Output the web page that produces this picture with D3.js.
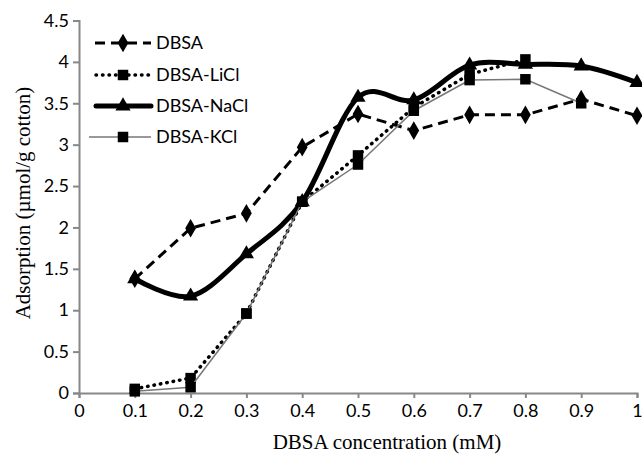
<!DOCTYPE html>
<html>
<head>
<meta charset="utf-8">
<script src="https://cdn.jsdelivr.net/npm/d3@7"></script>
<style>
  body { margin: 0; background: #fff; }
  svg text { fill: #000; }
</style>
</head>
<body>
<div id="chart"></div>
<script>
const width = 642;
const height = 455;

// data
const concentrations = [0.1, 0.2, 0.3, 0.4, 0.5, 0.6, 0.7, 0.8, 0.9, 1.0];
const dbsa = [1.38, 1.99, 2.17, 2.97, 3.37, 3.17, 3.36, 3.36, 3.55, 3.35];
const dbsaLiCl = [0.05, 0.18, 0.96, 2.31, 2.87, 3.45, 3.85, 4.03];
const dbsaNaCl = [1.38, 1.17, 1.68, 2.31, 3.57, 3.54, 3.96, 3.97, 3.95, 3.75];
const dbsaKCl = [0.02, 0.07, 0.96, 2.31, 2.76, 3.41, 3.78, 3.79, 3.50];
const xTicks = [0, 0.1, 0.2, 0.3, 0.4, 0.5, 0.6, 0.7, 0.8, 0.9, 1];
const yTicks = [0, 0.5, 1, 1.5, 2, 2.5, 3, 3.5, 4, 4.5];

const series = [
  { name: "DBSA", values: dbsa, marker: "diamond", width: 3, color: "#000", dash: "10,6", cap: "butt", curve: d3.curveLinear, lx: 95 },
  { name: "DBSA-LiCl", values: dbsaLiCl, marker: "square", width: 3.5, color: "#000", dash: "0.5,6", cap: "round", curve: d3.curveLinear, lx: 96 },
  { name: "DBSA-NaCl", values: dbsaNaCl, marker: "triangle", width: 5, color: "#000", dash: null, cap: "round", curve: d3.curveCatmullRom.alpha(0), lx: 96 },
  { name: "DBSA-KCl", values: dbsaKCl, marker: "square", width: 1.5, color: "#777", dash: null, cap: "butt", curve: d3.curveLinear, lx: 89 }
];

const svg = d3.select("#chart")
  .append("svg")
  .attr("width", width)
  .attr("height", height);

const x = d3.scaleLinear().domain([0, 1]).range([79, 637]);
const y = d3.scaleLinear().domain([0, 4.5]).range([393, 20.5]);

// axes
const xAxis = svg.append("g")
  .attr("transform", `translate(0,${y(0)})`)
  .call(d3.axisBottom(x).tickValues(xTicks).tickSize(5).tickPadding(6)
    .tickFormat(d => d === 0 || d === 1 ? d3.format("d")(d) : d3.format(".1f")(d)));

const yAxis = svg.append("g")
  .attr("transform", `translate(${x(0)},0)`)
  .call(d3.axisLeft(y).tickValues(yTicks).tickSize(6).tickPadding(4)
    .tickFormat(d => Number.isInteger(d) ? d3.format("d")(d) : d3.format(".1f")(d)));

[xAxis, yAxis].forEach(g => {
  g.select(".domain").attr("stroke", "#888").attr("stroke-width", 2);
  g.selectAll(".tick line").attr("stroke", "#888").attr("stroke-width", 2);
  g.selectAll(".tick text")
    .attr("fill", "#000")
    .style("font-family", "Lato, 'Open Sans', sans-serif")
    .style("font-size", "18px");
});

svg.append("text")
  .attr("x", 387)
  .attr("y", 449)
  .attr("text-anchor", "middle")
  .style("font-family", "'Liberation Serif', 'Times New Roman', serif")
  .style("font-size", "21px")
  .text("DBSA concentration (mM)");

svg.append("text")
  .attr("transform", "translate(30,203) rotate(-90)")
  .attr("text-anchor", "middle")
  .style("font-family", "'Liberation Serif', 'Times New Roman', serif")
  .style("font-size", "21px")
  .text("Adsorption (\u00b5mol/g cotton)");

// markers
function drawMarker(g, type, cx, cy) {
  const s = type === "square"
    ? d3.symbol().type(d3.symbolSquare).size(110)
    : type === "diamond"
      ? d3.symbol().type(d3.symbolDiamond).size(100)
      : d3.symbol().type(d3.symbolTriangle).size(100);
  g.append("path")
    .attr("d", s())
    .attr("transform", `translate(${cx},${cy})`)
    .attr("fill", "#000");
}

const line = curve => d3.line()
  .x((d, i) => x(concentrations[i]))
  .y(d => y(d))
  .curve(curve);

const plot = svg.append("g");

series.forEach(s => {
  const g = plot.append("g");
  g.append("path")
    .datum(s.values)
    .attr("fill", "none")
    .attr("stroke", s.color)
    .attr("stroke-width", s.width)
    .attr("stroke-dasharray", s.dash)
    .attr("stroke-linecap", s.cap)
    .attr("d", line(s.curve));
  s.values.forEach((v, i) => drawMarker(g, s.marker, x(concentrations[i]), y(v)));
});

// legend
const legend = svg.append("g");
const legendY = [43, 75, 106, 137];
series.forEach((s, i) => {
  const row = legend.append("g").attr("transform", `translate(0,${legendY[i]})`);
  row.append("line")
    .attr("x1", s.lx).attr("x2", 151)
    .attr("y1", 0).attr("y2", 0)
    .attr("stroke", s.color)
    .attr("stroke-width", s.width)
    .attr("stroke-dasharray", s.dash)
    .attr("stroke-linecap", s.cap);
  drawMarker(row, s.marker, 123, 0);
  row.append("text")
    .attr("x", 156)
    .attr("y", 0)
    .attr("dy", "0.35em")
    .style("font-family", "Lato, 'Open Sans', sans-serif")
    .style("font-size", "18px")
    .text(s.name);
});
</script>
</body>
</html>
